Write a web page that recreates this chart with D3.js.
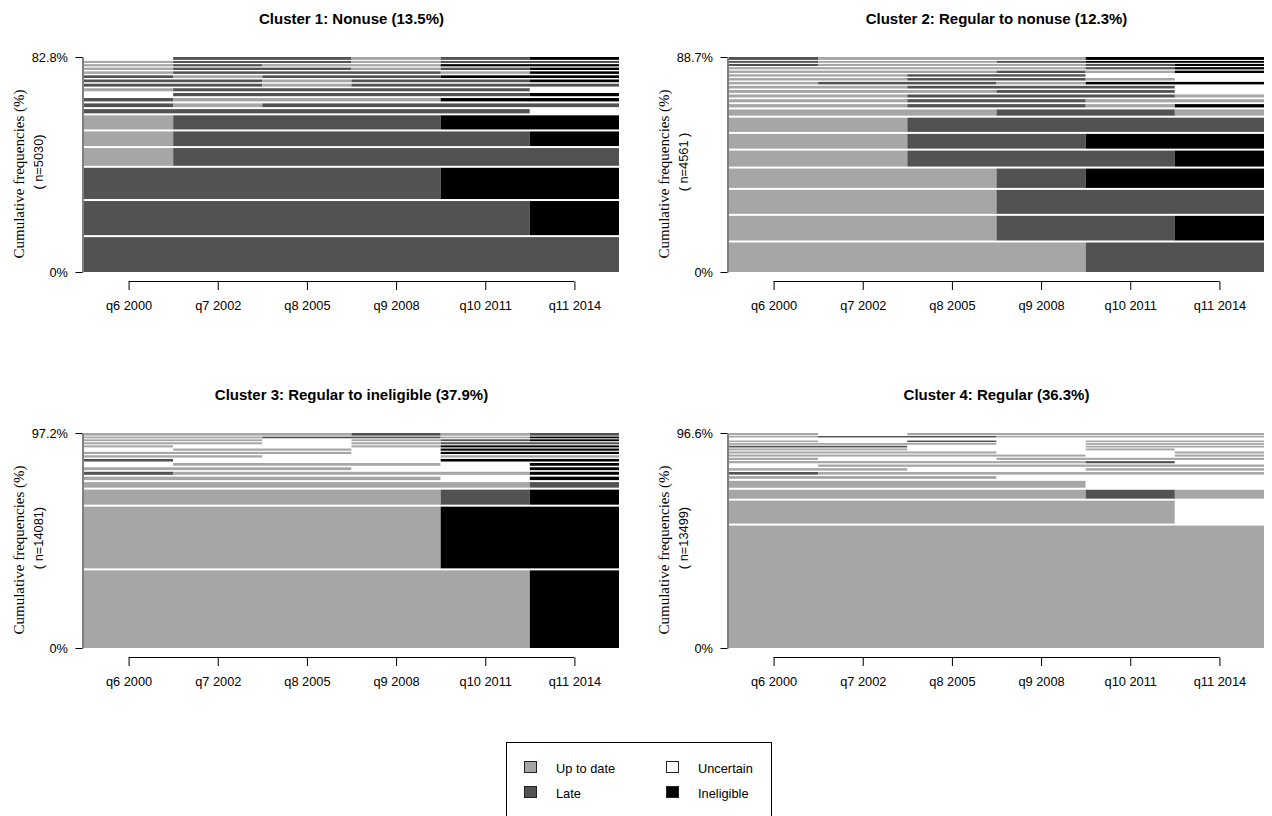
<!DOCTYPE html>
<html><head><meta charset="utf-8">
<script src="https://cdn.jsdelivr.net/npm/d3@7"></script>
<style>body{margin:0;background:#fff} svg{display:block}</style>
</head><body>
<svg id="chart" width="1272" height="816"></svg>
<script>
// ---------- data ----------
const waves = ["q6 2000","q7 2002","q8 2005","q9 2008","q10 2011","q11 2014"];
const stateCodes = ["U","L","C","I"];
const stateLabels = ["Up to date","Late","Uncertain","Ineligible"];
const clusterTitles = ["Cluster 1: Nonuse (13.5%)","Cluster 2: Regular to nonuse (12.3%)",
  "Cluster 3: Regular to ineligible (37.9%)","Cluster 4: Regular (36.3%)"];
const clusterN = ["( n=5030)","( n=4561 )","( n=14081)","( n=13499)"];
const yLabel = "Cumulative frequencies (%)";

// sequences: most frequent first (drawn at the bottom); frequencies in %
const c1Seqs = ["LLLLLL","LLLLLI","LLLLII","ULLLLL","ULLLLI","ULLLII","LLLLLC","LULLLL","LUUUII",
  "CLLLLI","ULLLLC","LLULLL","LLULLI","LULLII","ULLLUI","ULLULI","ULUUII","ULLULL","CLLULI"];
const c1Freq = [14.2,13.9,12.8,7.6,6.4,6.2,2.4,2.2,2.0,1.9,1.8,1.7,1.6,1.6,1.5,1.4,1.3,1.2,1.1];

const c2Seqs = ["UUUULL","UUULLI","UUULLL","UUULII","UULLLI","UULLII","UULLLL","UUULLU","UULLUI",
  "UULLUU","UULLLU","UUULLC","UULLLC","ULLUII","UULLUC","UULLCC","UUULUI","UUUULI","LUUULI","LUULII","LUUUII"];
const c2Freq = [13.0,11.0,10.7,8.8,7.4,6.9,6.7,3.4,2.1,2.0,1.9,1.8,1.7,1.6,1.6,1.5,1.5,1.4,1.3,1.2,1.2];

const c3Seqs = ["UUUUUI","UUUUII","UUUULI","UUUUUL","UUUUCI","LUUUUI","UUUCCI","CUUUCI","LCCCII",
  "UUCCUU","UUUCII","CUUCII","UCCUII","UUCULL","UUCULI","UULLUI","UUULUL"];
const c3Freq = [36.0,28.8,7.7,3.4,2.4,2.1,2.0,1.9,1.8,1.6,1.5,1.5,1.4,1.4,1.3,1.2,1.2];

const c4Seqs = ["UUUUUU","UUUUUC","UUUULU","UUUUCC","UUUCCC","LUUUUU","UUCCUU","CUUUUU","UUUULC",
  "UCCUUU","UUUUCU","UUUCCU","UUCCUC","LLCCUU","UUUCUU","UCLCUU","CCCCCC","ULLUUU","UCUUUU"];
const c4Freq = [55.9,11.2,4.9,4.0,1.9,1.8,1.7,1.6,1.5,1.5,1.4,1.4,1.3,1.2,1.2,1.1,1.0,1.0,1.0];

// ---------- styling ----------
const stateColor = {U:"#a6a6a6", L:"#525252", C:"#ffffff", I:"#000000"};
const sans = "'Liberation Sans', Arial, sans-serif";
const serif = "'Liberation Serif', 'Times New Roman', serif";

const svg = d3.select("#chart");
const panels = [
  {seqs:c1Seqs, freq:c1Freq, dx:0,   dy:0},
  {seqs:c2Seqs, freq:c2Freq, dx:645, dy:0},
  {seqs:c3Seqs, freq:c3Freq, dx:0,   dy:376},
  {seqs:c4Seqs, freq:c4Freq, dx:645, dy:376}
];

panels.forEach((p, pi) => {
  const g = svg.append("g").attr("transform", `translate(${p.dx},${p.dy})`);
  const total = d3.sum(p.freq);
  const x = d3.scaleLinear().domain([0, waves.length]).range([84, 619]);
  const y = d3.scaleLinear().domain([0, total]).range([272, 57]);

  let cum = 0;
  const rows = p.seqs.map((s, i) => { const r = {s, y0: cum, y1: cum + p.freq[i]}; cum += p.freq[i]; return r; });

  rows.forEach((r, i) => {
    const top = y(r.y1), bot = y(r.y0);
    const h = bot - top;
    const gap = i < rows.length - 1 ? Math.min(2, 0.35 * h) : 0;
    // run-length segments
    const states = r.s.split("");
    let start = 0;
    for (let k = 1; k <= states.length; k++) {
      if (k === states.length || states[k] !== states[start]) {
        g.append("rect")
          .attr("x", x(start)).attr("width", x(k) - x(start))
          .attr("y", top + gap).attr("height", Math.max(0.5, h - gap))
          .attr("fill", stateColor[states[start]]);
        start = k;
      }
    }
  });

  // x axis
  const xa = g.append("g").attr("transform", "translate(0,281.5)")
    .call(d3.axisBottom(x).tickValues(d3.range(waves.length).map(i => i + 0.5))
      .tickFormat((d, i) => waves[i]).tickSize(8.5).tickPadding(10.5));
  xa.select(".domain").remove();
  xa.append("line").attr("x1", x(0.5)).attr("x2", x(waves.length - 0.5))
    .attr("y1", 0).attr("y2", 0).attr("stroke", "#000");
  xa.selectAll("text").attr("font-family", sans).attr("font-size", 12.8).attr("fill", "#000");
  xa.selectAll(".tick line").attr("stroke", "#000");

  // y axis
  const ya = g.append("g").attr("transform", "translate(82.5,0)")
    .call(d3.axisLeft(y).tickValues([0, total])
      .tickFormat(d => d === 0 ? "0%" : d3.format(".1f")(d) + "%")
      .tickSize(7).tickPadding(7.5).tickSizeOuter(0));
  ya.selectAll("text").attr("font-family", sans).attr("font-size", 12.8).attr("fill", "#000");
  ya.select(".domain").attr("stroke", "#000");
  ya.selectAll(".tick line").attr("stroke", "#000");

  // title
  g.append("text").attr("x", (x(0) + x(waves.length)) / 2).attr("y", 18)
    .attr("text-anchor", "middle").attr("dominant-baseline", "central")
    .attr("font-family", sans).attr("font-weight", "bold").attr("font-size", 15)
    .text(clusterTitles[pi]);

  // y labels
  g.append("text").attr("transform", "translate(19,174) rotate(-90)")
    .attr("text-anchor", "middle").attr("dominant-baseline", "central")
    .attr("font-family", serif).attr("font-size", 15).text(yLabel);
  g.append("text").attr("transform", "translate(38,162) rotate(-90)")
    .attr("text-anchor", "middle").attr("dominant-baseline", "central")
    .attr("font-family", sans).attr("font-size", 12.8).text(clusterN[pi]);
});

// legend
const lg = svg.append("g");
lg.append("rect").attr("x", 506.5).attr("y", 742.5).attr("width", 265).attr("height", 100)
  .attr("fill", "none").attr("stroke", "#000");
stateCodes.forEach((c, i) => {
  const col = i < 2 ? 0 : 1, row = i % 2;
  const order = [0, 1, 2, 3];
  const sx = col === 0 ? 524.5 : 666.5;
  const sy = 761.5 + row * 25;
  lg.append("rect").attr("x", sx).attr("y", sy).attr("width", 12).attr("height", 11)
    .attr("fill", stateColor[c]).attr("stroke", "#222");
  lg.append("text").attr("x", col === 0 ? 556 : 698).attr("y", sy + 6.5)
    .attr("dominant-baseline", "central").attr("font-family", sans).attr("font-size", 12.8)
    .text(stateLabels[i]);
});
</script>
</body></html>
